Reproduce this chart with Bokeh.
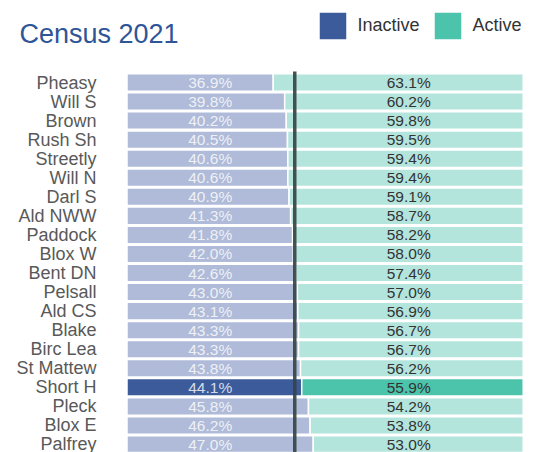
from bokeh.plotting import figure
from bokeh.models import ColumnDataSource, Range1d, Label, Legend, LegendItem
from bokeh.core.properties import value
from bokeh.embed import file_html
from bokeh.resources import INLINE

# ---- data ----
areas = ["Pheasy", "Will S", "Brown", "Rush Sh", "Streetly", "Will N", "Darl S",
         "Ald NWW", "Paddock", "Blox W", "Bent DN", "Pelsall", "Ald CS", "Blake",
         "Birc Lea", "St Mattew", "Short H", "Pleck", "Blox E", "Palfrey"]
inactive = [36.9, 39.8, 40.2, 40.5, 40.6, 40.6, 40.9, 41.3, 41.8, 42.0,
            42.6, 43.0, 43.1, 43.3, 43.3, 43.8, 44.1, 45.8, 46.2, 47.0]
active = [63.1, 60.2, 59.8, 59.5, 59.4, 59.4, 59.1, 58.7, 58.2, 58.0,
          57.4, 57.0, 56.9, 56.7, 56.7, 56.2, 55.9, 54.2, 53.8, 53.0]
highlight = "Short H"
title_text = "Census 2021"
series_names = ["Inactive", "Active"]

# ---- styles ----
FONT = "Liberation Sans"
C_IN, C_IN_L = "#3B5B9B", "#AFBBD8"
C_AC, C_AC_L = "#4CC3AB", "#B4E5DC"
W, H = 534, 452

n = len(areas)
ys = [-i for i in range(n)]
hl = [a == highlight for a in areas]
mean_inactive = sum(inactive) / n

src = ColumnDataSource(dict(
    y=ys, area=areas,
    in_left=[0] * n, in_right=inactive,
    ac_left=inactive, ac_right=[a + b for a, b in zip(inactive, active)],
    in_color=[C_IN if h else C_IN_L for h in hl],
    ac_color=[C_AC if h else C_AC_L for h in hl],
    in_lab=[f"{v:.1f}%" for v in inactive],
    ac_lab=[f"{v:.1f}%" for v in active],
    in_x=[21.0] * n, ac_x=[71.1] * n, name_x=[-7.7] * n,
))

p = figure(width=W, height=H, output_backend="svg", toolbar_location=None,
           title=None, x_axis_type=None, y_axis_type=None,
           x_range=Range1d(-31.93, 102.85), y_range=Range1d(-19.42, 4.304),
           min_border=0, min_border_left=0, min_border_right=0,
           min_border_top=0, min_border_bottom=0)
p.grid.visible = False
p.outline_line_color = None
p.background_fill_color = "white"
p.border_fill_color = "white"

r_in = p.hbar(y="y", left="in_left", right="in_right", height=0.92,
              fill_color="in_color", line_color="white", line_width=1.5, source=src)
r_ac = p.hbar(y="y", left="ac_left", right="ac_right", height=0.92,
              fill_color="ac_color", line_color="white", line_width=1.5, source=src)

p.segment(x0=[mean_inactive], x1=[mean_inactive], y0=[0.58], y1=[-25],
          line_color="#364444", line_width=3.5, line_alpha=0.92)

p.text(x="in_x", y="y", text="in_lab", source=src, text_align="center",
       text_baseline="middle", text_font=value(FONT), text_font_size="15.5px",
       text_color="white", text_alpha=0.8)
p.text(x="ac_x", y="y", text="ac_lab", source=src, text_align="center",
       text_baseline="middle", text_font=value(FONT), text_font_size="15.5px",
       text_color="#333333")
p.text(x="name_x", y="y", text="area", source=src, text_align="right",
       text_baseline="middle", text_font=value(FONT), text_font_size="18px",
       text_color="#595959")

p.add_layout(Label(x=19, y=H - 33, x_units="screen", y_units="screen", text=title_text,
                   text_font=FONT, text_font_size="27px", text_color="#2E5597",
                   text_baseline="alphabetic"))

hi = areas.index(highlight)
legend = Legend(items=[LegendItem(label=series_names[0], renderers=[r_in], index=hi),
                       LegendItem(label=series_names[1], renderers=[r_ac], index=hi)],
                orientation="horizontal", location=(314.5, H - 7.5 - 35),
                glyph_width=35, glyph_height=35, label_standoff=8, spacing=10,
                padding=0, margin=0, border_line_color=None,
                background_fill_alpha=0, label_text_font=FONT,
                label_text_font_size="18px", label_text_color="#333333")
p.add_layout(legend)

open("out.html", "w").write(file_html(p, INLINE))
